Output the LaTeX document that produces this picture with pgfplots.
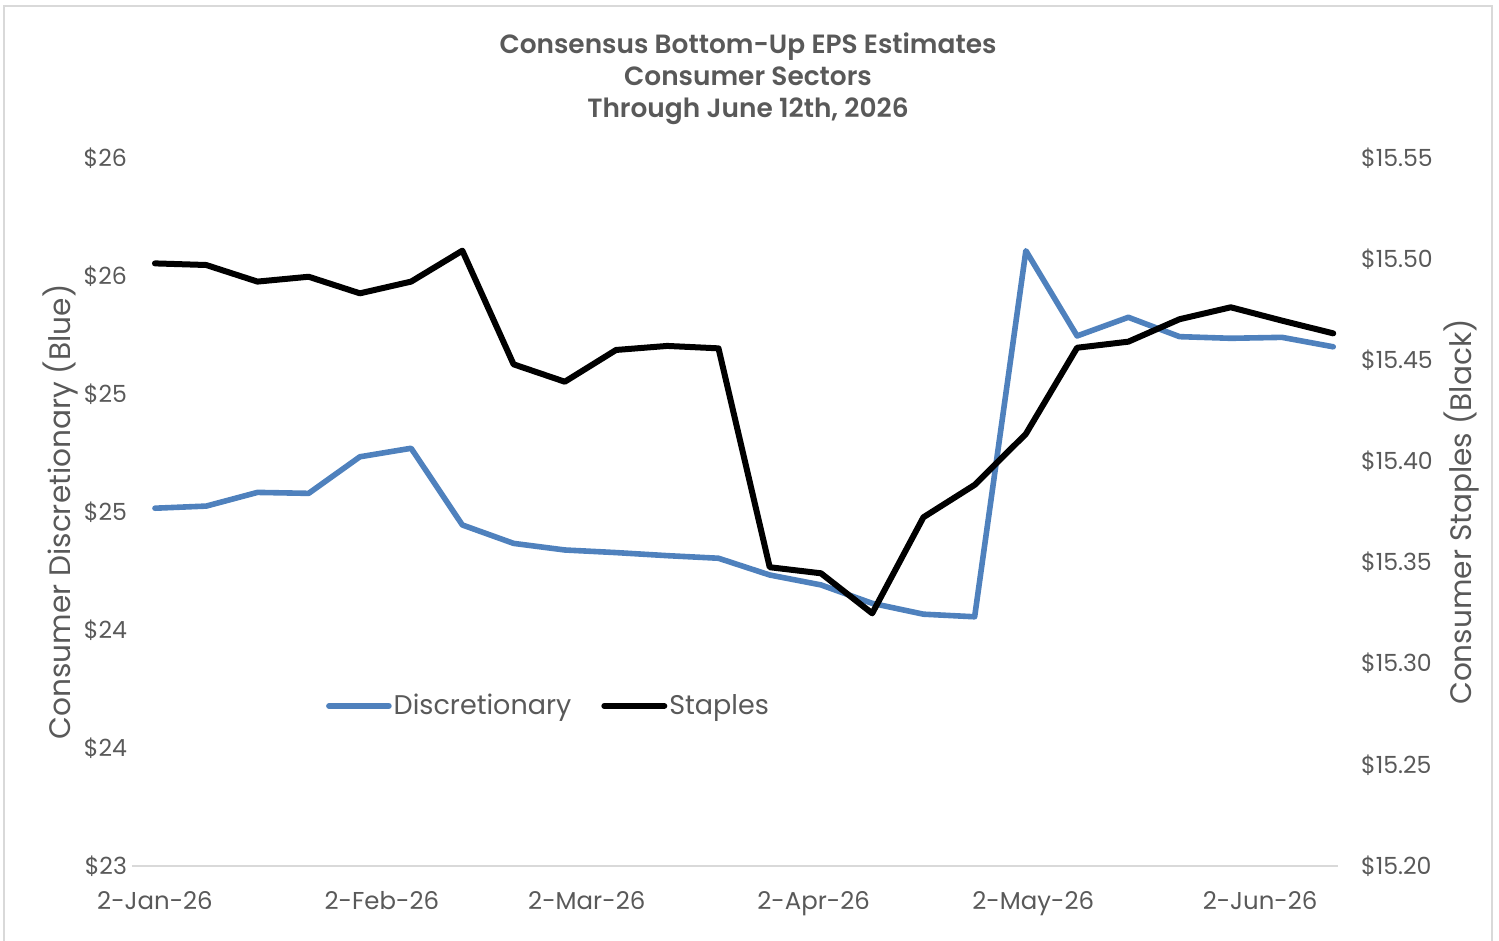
\documentclass[border=0pt]{standalone}
\usepackage{pgfplots}
\pgfplotsset{compat=1.18}
\usepackage{fontspec}
\setmainfont{Poppins}
\newfontfamily\titlefont{Poppins SemiBold}
\definecolor{txt}{HTML}{595959}
\definecolor{dblue}{HTML}{4F81BD}
\definecolor{framegray}{HTML}{D9D9D9}
\pgfplotstableread{
d v
0 24.516
7 24.525
14 24.583
21 24.579
28 24.734
35 24.770
42 24.445
49 24.367
56 24.339
63 24.328
70 24.315
77 24.304
84 24.233
91 24.191
98 24.113
105 24.067
112 24.056
119 25.607
126 25.246
133 25.325
140 25.243
147 25.236
154 25.240
161 25.200
}\disc
\pgfplotstableread{
d v
0 15.4979
7 15.4971
14 15.4889
21 15.4913
28 15.4831
35 15.4889
42 15.5042
49 15.4480
56 15.4394
63 15.4551
70 15.4571
77 15.4559
84 15.3477
91 15.3447
98 15.3249
105 15.3724
112 15.3884
119 15.4136
126 15.4562
133 15.4592
140 15.4703
147 15.4762
154 15.4696
161 15.4633
}\stap
\begin{document}
\begin{tikzpicture}[x=1pt,y=1pt]
\path[use as bounding box] (-66,-37.5) rectangle (683.5,433);
\draw[framegray, line width=1pt] (-64,-40) -- (-64,430) -- (680,430) -- (680,-40);
\pgfplotsset{
  base/.style={
    scale only axis, width=603pt, height=354pt,
    at={(0,0)}, anchor=south west,
    xmin=-3.14, xmax=161.65,
    axis line style={draw=none},
    major tick length=0pt,
    tick label style={font=\fontsize{11.8}{13}\selectfont, text=txt},
    label style={font=\fontsize{14.8}{17}\selectfont, text=txt},
    clip=false,
  }
}
\begin{axis}[base,
  ymin=23, ymax=26,
  ytick={23,23.5,24,24.5,25,25.5,26},
  yticklabels={\$23,\$24,\$24,\$25,\$25,\$26,\$26},
  xtick={0,31,59,90,120,151},
  xticklabels={2-Jan-26,2-Feb-26,2-Mar-26,2-Apr-26,2-May-26,2-Jun-26},
  xticklabel style={yshift=-9pt, font=\fontsize{12.2}{13}\selectfont},
  yticklabel style={xshift=1pt},
  ylabel={Consumer Discretionary (Blue)},
  ylabel style={at={(axis description cs:-0.0597,0.5)}, anchor=center, rotate=0},
]
\draw[framegray, line width=1pt] (axis cs:-3.14,23) -- (axis cs:161.65,23);
\addplot[dblue, line width=2.8pt, line join=round, line cap=round] table[x=d,y=v] {\disc};
\end{axis}
\begin{axis}[base,
  ymin=15.20, ymax=15.55,
  axis y line*=right,
  axis x line=none,
  ytick={15.20,15.25,15.30,15.35,15.40,15.45,15.50,15.55},
  yticklabels={\$15.20,\$15.25,\$15.30,\$15.35,\$15.40,\$15.45,\$15.50,\$15.55},
  yticklabel style={xshift=8pt},
  ylabel={Consumer Staples (Black)},
  ylabel style={at={(axis description cs:1.1028,0.5)}, anchor=center},
  legend columns=2,
  legend style={at={(0.3454,0.226)}, anchor=center, draw=none, fill=none,
    font=\fontsize{13.5}{16}\selectfont, text=txt,
    /tikz/every even column/.append style={column sep=14pt},
    nodes={inner sep=1pt}},
  legend image code/.code={\draw[#1, line cap=round] (0pt,0pt) -- (30pt,0pt);},
]
\addlegendimage{dblue, line width=2.8pt}
\addlegendentry{Discretionary}
\addplot[black, line width=3pt, line join=round, line cap=round] table[x=d,y=v] {\stap};
\addlegendentry{Staples}
\end{axis}
\node[text=txt, align=center, font=\fontsize{13.2}{16}\selectfont\titlefont] at (308,393.5) {Consensus Bottom-Up EPS Estimates\\Consumer Sectors\\Through June 12th, 2026};
\end{tikzpicture}
\end{document}
